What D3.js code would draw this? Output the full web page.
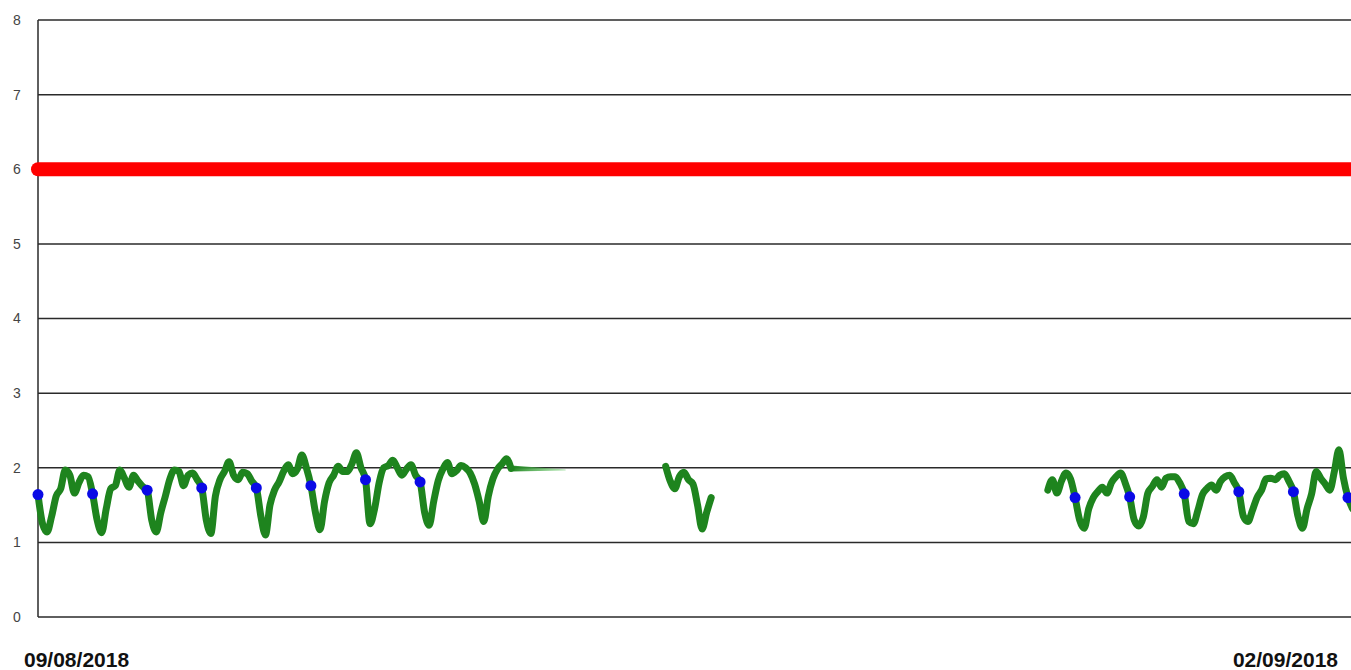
<!DOCTYPE html>
<html>
<head>
<meta charset="utf-8">
<title>chart</title>
<style>
  body { margin: 0; background: #fff; }
  svg { display: block; }
</style>
</head>
<body>
<script src="https://d3js.org/d3.v7.min.js"></script>
<div id="chart"></div>
<script>
    // readings, one value every 2 hours
    var startLabel = "09/08/2018";
    var endLabel = "02/09/2018";
    var stepHours = 2;
    var limitValue = 6;
    var yTicks = [0, 1, 2, 3, 4, 5, 6, 7, 8];

    // first run, from 09/08 00:00
    var seg1Start = 0;
    var seg1Values = [
        1.64, 1.25, 1.14, 1.35, 1.62, 1.72, 1.97, 1.90, 1.66, 1.80, 1.90, 1.88,
        1.65, 1.30, 1.13, 1.45, 1.72, 1.76, 1.97, 1.86, 1.74, 1.90, 1.82, 1.75,
        1.70, 1.30, 1.14, 1.40, 1.62, 1.85, 1.97, 1.95, 1.76, 1.90, 1.93, 1.84,
        1.73, 1.30, 1.12, 1.62, 1.84, 1.95, 2.08, 1.90, 1.84, 1.94, 1.92, 1.82,
        1.73, 1.35, 1.10, 1.50, 1.70, 1.81, 1.95, 2.04, 1.92, 1.98, 2.17, 2.00,
        1.76, 1.40, 1.17, 1.55, 1.80, 1.90, 2.02, 1.95, 1.95, 2.05, 2.20, 2.00,
        1.84, 1.25, 1.45, 1.80, 2.00, 2.03, 2.10, 2.00, 1.90, 1.98, 2.04, 1.90,
        1.81, 1.40, 1.23, 1.55, 1.83, 1.98, 2.07, 1.92, 1.96, 2.03, 2.00, 1.93,
        1.78, 1.55, 1.28, 1.62, 1.85, 1.98, 2.05, 2.12, 1.99
    ];
    // fading tail after the first run
    var tailHours = [208, 232];
    var tailValues = [1.99, 1.97];

    // short run on 20/08 - 21/08
    var seg2Start = 276;
    var seg2Values = [2.02, 1.82, 1.72, 1.88, 1.94, 1.84, 1.78, 1.50, 1.18, 1.40, 1.60];

    // last run, from 27/08 12:00
    var seg3Start = 444;
    var seg3Values = [
        1.70, 1.84, 1.66, 1.82, 1.93, 1.85,
        1.60, 1.30, 1.19, 1.45, 1.60, 1.68, 1.74, 1.66, 1.80, 1.88, 1.93, 1.80,
        1.61, 1.30, 1.22, 1.34, 1.66, 1.75, 1.84, 1.74, 1.86, 1.88, 1.88, 1.80,
        1.65, 1.28, 1.25, 1.43, 1.64, 1.72, 1.77, 1.70, 1.82, 1.88, 1.90, 1.80,
        1.68, 1.35, 1.28, 1.43, 1.60, 1.70, 1.85, 1.86, 1.84, 1.90, 1.92, 1.82,
        1.68, 1.35, 1.19, 1.45, 1.65, 1.95, 1.86, 1.78, 1.70, 1.95, 2.24, 1.86,
        1.60, 1.45
    ];

    // midnight markers
    var dotDays = [0, 1, 2, 3, 4, 5, 6, 7, 19, 20, 21, 22, 23, 24];
    var dotValues = [1.64, 1.65, 1.70, 1.73, 1.73, 1.76, 1.84, 1.81, 1.60, 1.61, 1.65, 1.68, 1.68, 1.60];

    var width = 1351, height = 670;
    var t0 = new Date(2018, 7, 9);
    var t1 = new Date(2018, 8, 2);
    var hour = 3600 * 1000;

    var svg = d3.select("#chart").append("svg")
        .attr("width", width).attr("height", height);

    var x = d3.scaleTime().domain([t0, t1]).range([38, 1348]);
    var y = d3.scaleLinear().domain([0, 8]).range([617, 20]);

    function toPoints(start, values) {
        return values.map(function(v, i) {
            return { date: new Date(t0.getTime() + (start + i * stepHours) * hour), value: v };
        });
    }

    // grid lines
    svg.append("g").selectAll("line")
        .data(yTicks).enter().append("line")
        .attr("x1", 38).attr("x2", width)
        .attr("y1", function(d) { return y(d); })
        .attr("y2", function(d) { return y(d); })
        .attr("stroke", "#2a2a2a").attr("stroke-width", 1.5);

    svg.append("line")
        .attr("x1", 38).attr("x2", 38)
        .attr("y1", y(8)).attr("y2", y(0))
        .attr("stroke", "#2a2a2a").attr("stroke-width", 1.5);

    // y labels
    svg.append("g").selectAll("text")
        .data(yTicks).enter().append("text")
        .attr("x", 17)
        .attr("y", function(d) { return y(d); })
        .attr("dy", "0.35em")
        .attr("text-anchor", "middle")
        .attr("font-family", "Liberation Sans, Arial, sans-serif")
        .attr("font-size", 14)
        .attr("fill", "#444")
        .text(function(d) { return d; });

    // limit line
    svg.append("line")
        .attr("x1", x(t0)).attr("x2", width + 10)
        .attr("y1", y(limitValue)).attr("y2", y(limitValue))
        .attr("stroke", "#ff0000").attr("stroke-width", 14)
        .attr("stroke-linecap", "round");

    var line = d3.line()
        .curve(d3.curveMonotoneX)
        .x(function(d) { return x(d.date); })
        .y(function(d) { return y(d.value); });

    var green = "#1e841e";

    // tail: thin wedge fading out
    var defs = svg.append("defs");
    var grad = defs.append("linearGradient").attr("id", "fade");
    grad.append("stop").attr("offset", "0%").attr("stop-color", green).attr("stop-opacity", 1);
    grad.append("stop").attr("offset", "100%").attr("stop-color", "#6fcf6f").attr("stop-opacity", 0.5);

    var tailPts = tailHours.map(function(h, i) {
        return { date: new Date(t0.getTime() + h * hour), value: tailValues[i], half: i == 0 ? 3 : 0.4 };
    });
    var wedge = d3.area()
        .x(function(d) { return x(d.date); })
        .y0(function(d) { return y(d.value) - d.half; })
        .y1(function(d) { return y(d.value) + d.half; });
    svg.append("path").datum(tailPts)
        .attr("d", wedge)
        .attr("fill", "url(#fade)");

    [toPoints(seg1Start, seg1Values), toPoints(seg2Start, seg2Values), toPoints(seg3Start, seg3Values)]
        .forEach(function(seg) {
            svg.append("path").datum(seg)
                .attr("d", line)
                .attr("fill", "none")
                .attr("stroke", green)
                .attr("stroke-width", 7)
                .attr("stroke-linejoin", "round")
                .attr("stroke-linecap", "round");
        });

    // dots
    svg.append("g").selectAll("circle")
        .data(dotDays).enter().append("circle")
        .attr("cx", function(d) { return x(d3.timeDay.offset(t0, d)); })
        .attr("cy", function(d, i) { return y(dotValues[i]); })
        .attr("r", 5.5)
        .attr("fill", "#0a0ae6");

    // date labels
    svg.append("text")
        .attr("x", 24).attr("y", 667)
        .attr("font-family", "Liberation Sans, Arial, sans-serif")
        .attr("font-size", 21).attr("font-weight", "bold")
        .attr("fill", "#111")
        .text(startLabel);
    svg.append("text")
        .attr("x", 1338).attr("y", 667)
        .attr("text-anchor", "end")
        .attr("font-family", "Liberation Sans, Arial, sans-serif")
        .attr("font-size", 21).attr("font-weight", "bold")
        .attr("fill", "#111")
        .text(endLabel);
</script>
</body>
</html>
